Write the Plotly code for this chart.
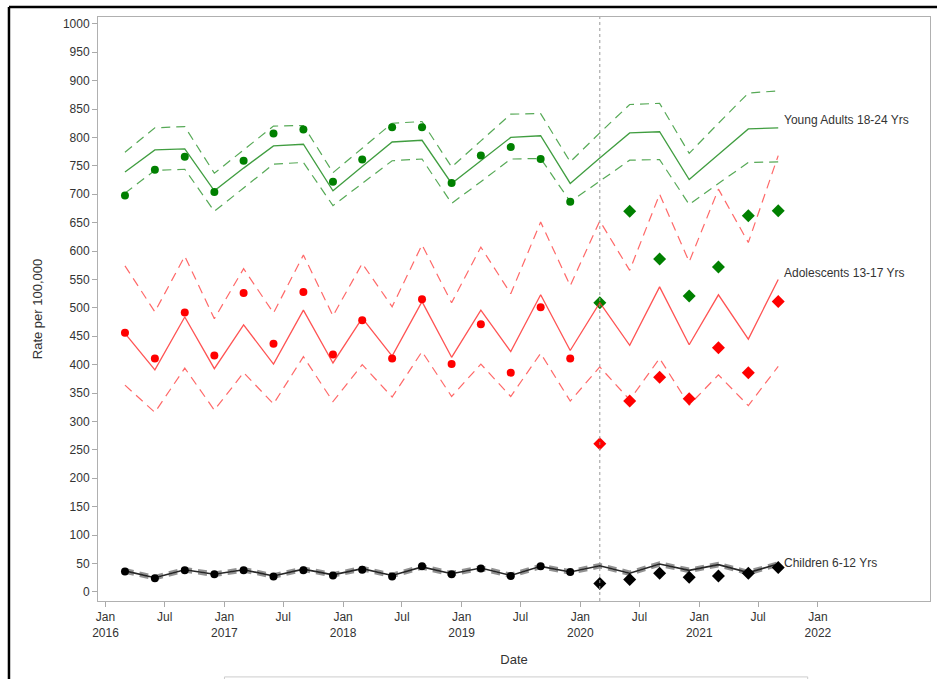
import plotly.graph_objects as go

dates = ["2016-03-01", "2016-06-01", "2016-09-01", "2016-12-01",
         "2017-03-01", "2017-06-01", "2017-09-01", "2017-12-01",
         "2018-03-01", "2018-06-01", "2018-09-01", "2018-12-01",
         "2019-03-01", "2019-06-01", "2019-09-01", "2019-12-01",
         "2020-03-01", "2020-06-01", "2020-09-01", "2020-12-01",
         "2021-03-01", "2021-06-01", "2021-09-01"]
n_pre = 16  # observations before March 2020 drawn as circles

ya_obs = [698, 743, 766, 704, 759, 807, 814, 722, 761, 818, 818, 720, 768, 783, 762, 687,
          509, 670, 586, 521, 572, 662, 671]
ya_fit = [739, 778, 780, 706, 746, 785, 788, 706, 749, 792, 795, 719, 759, 800, 803, 719,
          764, 808, 810, 726, 770, 815, 817]
ya_hi = [774, 817, 819, 737, 778, 820, 821, 738, 781, 825, 828, 748, 794, 841, 842, 757,
         808, 858, 860, 772, 825, 878, 882]
ya_lo = [702, 742, 744, 670, 711, 753, 756, 680, 719, 759, 762, 684, 722, 762, 763, 687,
         723, 760, 761, 682, 719, 756, 757]

ad_obs = [456, 411, 492, 416, 526, 437, 528, 418, 478, 411, 515, 401, 471, 386, 501, 411,
          261, 336, 378, 340, 430, 386, 511]
ad_fit = [455, 391, 484, 393, 470, 401, 496, 403, 482, 415, 511, 413, 496, 423, 523, 425,
          509, 434, 537, 435, 523, 445, 550]
ad_hi = [574, 493, 591, 481, 569, 491, 593, 486, 578, 502, 611, 509, 607, 525, 651, 539,
         653, 566, 700, 581, 709, 615, 768]
ad_lo = [364, 316, 394, 320, 386, 331, 414, 335, 400, 343, 423, 344, 401, 344, 420, 336,
         396, 338, 411, 329, 382, 328, 397]

ch_obs = [36, 24, 38, 31, 38, 27, 38, 29, 39, 27, 45, 31, 41, 28, 45, 35,
          15, 22, 33, 26, 28, 33, 43]
ch_fit = [37, 25, 39, 31, 39, 28, 40, 30, 41, 29, 44, 32, 42, 29, 45, 35,
          46, 33, 49, 38, 48, 34, 49]
ch_hi = [40, 28, 42, 34, 42, 31, 43, 33, 44, 32, 47, 35, 45, 32, 48, 38,
         49, 36, 52, 41, 51, 37, 52]
ch_lo = [34, 22, 36, 28, 36, 25, 37, 27, 38, 26, 41, 29, 39, 26, 42, 32,
         43, 30, 46, 35, 45, 31, 46]

labels = ["Young Adults 18-24 Yrs", "Adolescents 13-17 Yrs", "Children 6-12 Yrs"]
label_y = [831, 562, 51]

tick_vals = ["2016-01-01", "2016-07-01", "2017-01-01", "2017-07-01", "2018-01-01",
             "2018-07-01", "2019-01-01", "2019-07-01", "2020-01-01", "2020-07-01",
             "2021-01-01", "2021-07-01", "2022-01-01"]
tick_text = ["Jan<br>2016", "Jul", "Jan<br>2017", "Jul", "Jan<br>2018", "Jul",
             "Jan<br>2019", "Jul", "Jan<br>2020", "Jul", "Jan<br>2021", "Jul", "Jan<br>2022"]

fig = go.Figure()

groups = [
    (ya_obs, ya_fit, ya_hi, ya_lo, "#008000", "rgba(30,140,30,0.85)", "rgba(30,140,30,0.75)", 1.2),
    (ad_obs, ad_fit, ad_hi, ad_lo, "#ff0000", "rgba(255,40,40,0.8)", "rgba(255,40,40,0.7)", 1.2),
    (ch_obs, ch_fit, ch_hi, ch_lo, "#000000", "rgba(0,0,0,0.85)", "rgba(110,110,110,0.75)", 2.2),
]
for obs, fit, hi, lo, mc, fc, bc, bw in groups:
    for band in (hi, lo):
        fig.add_trace(go.Scatter(x=dates, y=band, mode="lines",
                                 line=dict(color=bc, width=bw, dash="9px,6px"),
                                 showlegend=False, hoverinfo="skip"))
    fig.add_trace(go.Scatter(x=dates, y=fit, mode="lines",
                             line=dict(color=fc, width=1.3 if bw < 2 else 1.6),
                             showlegend=False))
    fig.add_trace(go.Scatter(x=dates[:n_pre], y=obs[:n_pre], mode="markers",
                             marker=dict(symbol="circle", size=8, color=mc),
                             showlegend=False))
    fig.add_trace(go.Scatter(x=dates[n_pre:], y=obs[n_pre:], mode="markers",
                             marker=dict(symbol="diamond", size=10, color=mc),
                             showlegend=False))

for txt, yv in zip(labels, label_y):
    fig.add_annotation(x=dates[-1], y=yv, text=txt, showarrow=False,
                       xanchor="left", yanchor="middle", xshift=4,
                       font=dict(size=12, color="#333333"))

# intervention line
fig.add_shape(type="line", x0=dates[n_pre], x1=dates[n_pre], y0=0, y1=1,
              xref="x", yref="paper", line=dict(color="#999999", width=1, dash="dot"))

# outer frame and partial legend box
fig.add_shape(type="line", xref="paper", yref="paper", x0=-0.107, x1=1.02, y0=1.0171, y1=1.0171,
              line=dict(color="black", width=2.5))
fig.add_shape(type="line", xref="paper", yref="paper", x0=-0.107, x1=-0.107, y0=1.0171, y1=-0.14,
              line=dict(color="black", width=2.5))
fig.add_shape(type="line", xref="paper", yref="paper", x0=0.152, x1=0.853, y0=-0.130, y1=-0.130,
              line=dict(color="#cccccc", width=1))
fig.add_shape(type="line", xref="paper", yref="paper", x0=0.152, x1=0.152, y0=-0.130, y1=-0.14,
              line=dict(color="#cccccc", width=1))
fig.add_shape(type="line", xref="paper", yref="paper", x0=0.853, x1=0.853, y0=-0.130, y1=-0.14,
              line=dict(color="#cccccc", width=1))

fig.update_layout(
    width=937, height=679,
    margin=dict(l=98, r=7, t=17, b=78, autoexpand=False),
    paper_bgcolor="white", plot_bgcolor="white",
    font=dict(family="Liberation Sans, Arial, sans-serif", size=12, color="#333333"),
    showlegend=False,
)
fig.update_xaxes(
    type="date", range=["2015-12-09", "2022-12-12"], automargin=False,
    tickvals=tick_vals, ticktext=tick_text,
    ticks="outside", ticklen=5, tickcolor="#aaaaaa",
    showline=True, linecolor="#b0b0b0", mirror=True, showgrid=False, zeroline=False,
    title=dict(text="Date", font=dict(size=13, color="#333333"), standoff=15),
)
fig.update_yaxes(
    range=[-16, 1012], tickmode="linear", tick0=0, dtick=50, automargin=False,
    ticks="outside", ticklen=5, tickcolor="#aaaaaa",
    showline=True, linecolor="#b0b0b0", mirror=True, showgrid=False, zeroline=False,
    title=dict(text="Rate per 100,000", font=dict(size=13, color="#333333"), standoff=17),
)

fig.write_html("out.html", config={"displayModeBar": False},
               post_script="document.body.style.margin='0';document.body.style.overflow='hidden';")
